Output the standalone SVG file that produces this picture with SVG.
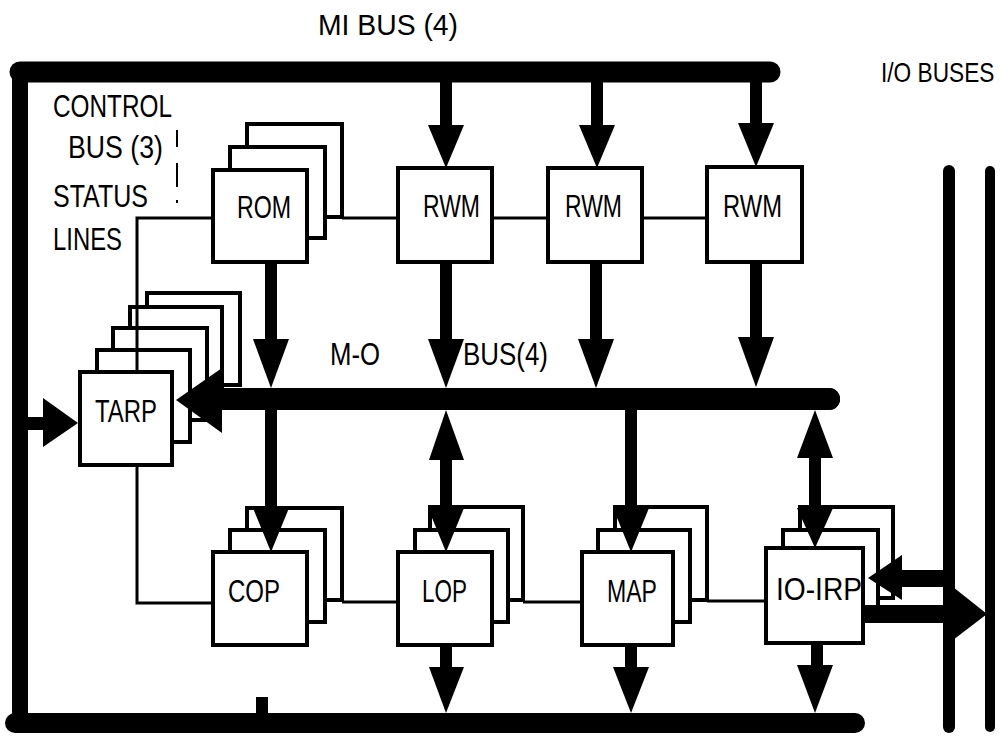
<svg xmlns="http://www.w3.org/2000/svg" width="1007" height="736" viewBox="0 0 1007 736">
<style>
.t{font-family:"Liberation Sans",Arial,sans-serif;font-size:31px;fill:#000}
.b{fill:#fff;stroke:#000;stroke-width:4}
.ln{fill:none;stroke:#000;stroke-width:3}
.k{fill:#000;stroke:none}
.bus{fill:none;stroke:#000;stroke-linecap:round}
</style>
<rect width="1007" height="736" fill="#fff"/>
<g id="labels">
<text class="t" x="318" y="35" style="font-size:29px" textLength="140" lengthAdjust="spacingAndGlyphs">MI BUS (4)</text>
<text class="t" transform="translate(881,82) scale(0.84,1)" x="0" y="0" style="font-size:27px">I/O BUSES</text>
<text class="t" x="53" y="117" textLength="119" lengthAdjust="spacingAndGlyphs">CONTROL</text>
<text class="t" x="68" y="158" textLength="95" lengthAdjust="spacingAndGlyphs">BUS (3)</text>
<text class="t" x="53" y="207" textLength="95" lengthAdjust="spacingAndGlyphs">STATUS</text>
<text class="t" x="53" y="250" textLength="69" lengthAdjust="spacingAndGlyphs">LINES</text>
<text class="t" x="330" y="365" textLength="50" lengthAdjust="spacingAndGlyphs">M-O</text>
<text class="t" x="463" y="365" textLength="85" lengthAdjust="spacingAndGlyphs">BUS(4)</text>
</g>
<g id="rom">
<rect class="b" x="247" y="124" width="95" height="93"/>
<rect class="b" x="230" y="147" width="95" height="91"/>
<rect class="b" x="213" y="170" width="94" height="92"/>
<text class="t" x="237" y="218" textLength="54" lengthAdjust="spacingAndGlyphs">ROM</text>
</g>
<g id="rwm1">
<rect class="b" x="398" y="168" width="94" height="94"/>
<text class="t" x="423" y="217" textLength="57" lengthAdjust="spacingAndGlyphs">RWM</text>
</g>
<g id="rwm2">
<rect class="b" x="548" y="168" width="94" height="94"/>
<text class="t" x="565" y="217" textLength="57" lengthAdjust="spacingAndGlyphs">RWM</text>
</g>
<g id="rwm3">
<rect class="b" x="707" y="167" width="95" height="95"/>
<text class="t" x="723" y="217" textLength="59" lengthAdjust="spacingAndGlyphs">RWM</text>
</g>
<g id="tarp">
<rect class="b" x="147" y="293" width="93" height="92"/>
<rect class="b" x="130" y="307" width="92" height="90"/>
<rect class="b" x="113" y="328" width="94" height="92"/>
<rect class="b" x="97" y="350" width="93" height="92"/>
<rect class="b" x="80" y="372" width="92" height="93"/>
<text class="t" x="95" y="422" textLength="62" lengthAdjust="spacingAndGlyphs">TARP</text>
</g>
<g id="cop">
<rect class="b" x="247" y="508" width="95" height="92"/>
<rect class="b" x="230" y="530" width="95" height="92"/>
<rect class="b" x="213" y="552" width="94" height="93"/>
<text class="t" x="228" y="602" textLength="52" lengthAdjust="spacingAndGlyphs">COP</text>
</g>
<g id="lop">
<rect class="b" x="430" y="507" width="93" height="93"/>
<rect class="b" x="415" y="530" width="93" height="92"/>
<rect class="b" x="398" y="552" width="94" height="93"/>
<text class="t" x="422" y="602" textLength="45" lengthAdjust="spacingAndGlyphs">LOP</text>
</g>
<g id="map">
<rect class="b" x="615" y="507" width="92" height="93"/>
<rect class="b" x="598" y="530" width="92" height="92"/>
<rect class="b" x="582" y="552" width="91" height="93"/>
<text class="t" x="607" y="602" textLength="50" lengthAdjust="spacingAndGlyphs">MAP</text>
</g>
<g id="io-irp">
<rect class="b" x="800" y="507" width="93" height="91"/>
<rect class="b" x="783" y="530" width="95" height="90"/>
<rect class="b" x="766" y="548" width="97" height="95"/>
<text class="t" x="776" y="600" textLength="86" lengthAdjust="spacingAndGlyphs">IO-IRP</text>
</g>
<g id="connectors">
<path class="bus" d="M770 72 L20 72" stroke-width="21"/>
<path class="bus" d="M20 70 L20 724" stroke-width="16" stroke-linecap="butt"/>
<path class="bus" d="M15 723 L855 723" stroke-width="20"/>
<rect class="k" x="256" y="697" width="12" height="20"/>
<path class="bus" d="M949 171 L949 727" stroke-width="12"/>
<path class="bus" d="M990 171 L990 727" stroke-width="10"/>
<path class="bus" d="M220 399 L829 399" stroke-width="22" stroke-linecap="butt"/>
<circle class="k" cx="829" cy="399" r="11"/>
<polygon class="k" points="176,400 222,368 222,433"/>
<path class="ln" d="M213 218 L137 218 L137 372"/>
<path class="ln" d="M137 465 L137 603 L213 603"/>
<path class="ln" d="M342 218 L398 218 M492 218 L548 218 M642 218 L707 218"/>
<path class="ln" d="M342 602 L398 602 M523 602 L582 602 M707 601 L766 601"/>
<path fill="none" stroke="#000" stroke-width="2" d="M177 130 L177 203" stroke-dasharray="17,16,24,13,3"/>
<rect class="k" x="27" y="417" width="17" height="13"/>
<polygon class="k" points="43,398 43,447 78,423"/>
<rect class="k" x="440" y="80" width="12" height="46"/>
<polygon class="k" points="428,125 464,125 446,168"/>
<rect class="k" x="591" y="80" width="12" height="46"/>
<polygon class="k" points="579,125 615,125 597,168"/>
<rect class="k" x="750" y="80" width="12" height="44"/>
<polygon class="k" points="738,123 774,123 756,167"/>
<rect class="k" x="265" y="262" width="12" height="78"/>
<polygon class="k" points="253,339 289,339 271,388"/>
<rect class="k" x="440" y="262" width="12" height="78"/>
<polygon class="k" points="428,339 464,339 446,388"/>
<rect class="k" x="590" y="262" width="12" height="78"/>
<polygon class="k" points="578,339 614,339 596,388"/>
<rect class="k" x="750" y="262" width="12" height="76"/>
<polygon class="k" points="738,337 774,337 756,387"/>
<rect class="k" x="265" y="408" width="12" height="101"/>
<polygon class="k" points="253,508 289,508 271,552"/>
<polygon class="k" points="429,460 464,460 446,410"/>
<rect class="k" x="440" y="459" width="12" height="50"/>
<polygon class="k" points="428,508 464,508 446,552"/>
<rect class="k" x="625" y="408" width="12" height="101"/>
<polygon class="k" points="613,508 649,508 631,552"/>
<polygon class="k" points="797,458 833,458 815,410"/>
<rect class="k" x="809" y="457" width="12" height="52"/>
<polygon class="k" points="797,508 833,508 815,548"/>
<rect class="k" x="440" y="645" width="12" height="23"/>
<polygon class="k" points="429,667 464,667 446,713"/>
<rect class="k" x="625" y="645" width="12" height="23"/>
<polygon class="k" points="613,667 649,667 631,713"/>
<rect class="k" x="811" y="643" width="12" height="23"/>
<polygon class="k" points="797,665 833,665 815,713"/>
<rect class="k" x="900" y="570" width="45" height="17"/>
<polygon class="k" points="868,578 902,555 902,600"/>
<rect class="k" x="863" y="605" width="92" height="18"/>
<polygon class="k" points="953,587 953,640 987,614"/>
</g>
</svg>
